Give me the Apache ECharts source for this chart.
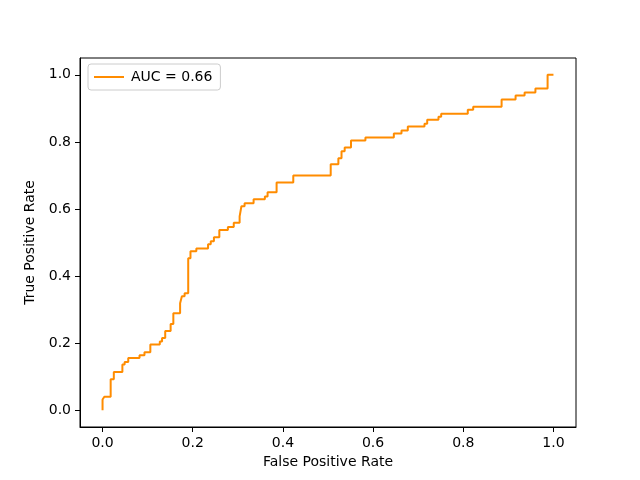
<!DOCTYPE html>
<html>
<head>
<meta charset="utf-8">
<script src="https://cdn.jsdelivr.net/npm/echarts@6/dist/echarts.min.js"></script>
<style>html,body{margin:0;padding:0;background:#fff}#c{width:640px;height:480px}</style>
</head>
<body>
<div id="c"></div>
<script>
// False positive rate at each vertical step of the ROC curve
var stepFpr = [0, 0.004, 0.018, 0.025, 0.044, 0.049, 0.057, 0.082, 0.093, 0.106,
  0.127, 0.132, 0.139, 0.151, 0.157, 0.172, 0.176, 0.182, 0.190, 0.195,
  0.208, 0.234, 0.240, 0.247, 0.259, 0.278, 0.291, 0.304, 0.308, 0.315,
  0.335, 0.360, 0.366, 0.386, 0.423, 0.506, 0.523, 0.530, 0.537, 0.551,
  0.583, 0.646, 0.663, 0.677, 0.714, 0.720, 0.745, 0.751, 0.810, 0.822,
  0.885, 0.916, 0.936, 0.960, 0.987];
// True positive rate reached after each step
var stepTpr = [0.032, 0.040, 0.092, 0.114, 0.136, 0.144, 0.156, 0.164, 0.173, 0.196,
  0.205, 0.215, 0.236, 0.257, 0.289, 0.319, 0.340, 0.349, 0.453, 0.474,
  0.482, 0.495, 0.504, 0.516, 0.537, 0.546, 0.559, 0.578, 0.608, 0.617,
  0.629, 0.637, 0.650, 0.679, 0.700, 0.733, 0.751, 0.772, 0.783, 0.804,
  0.813, 0.825, 0.834, 0.846, 0.854, 0.866, 0.875, 0.884, 0.896, 0.905,
  0.926, 0.938, 0.947, 0.959, 1.0];
var tickValues = [0, 0.2, 0.4, 0.6, 0.8, 1.0];
var seriesName = 'AUC = 0.66';
var xTitle = 'False Positive Rate';
var yTitle = 'True Positive Rate';

var roc = [[0, 0]];
var prev = 0;
for (var i = 0; i < stepFpr.length; i++) {
  roc.push([stepFpr[i], prev]);
  roc.push([stepFpr[i], stepTpr[i]]);
  prev = stepTpr[i];
}
roc.push([1.0, prev]);

var font = 'DejaVu Sans';
function axisCommon(name, isX) {
  return {
    type: 'value', min: -0.05, max: 1.05,
    name: name, nameLocation: 'middle',
    nameGap: isX ? 28 : 38,
    nameTextStyle: {fontFamily: font, fontSize: 14, color: '#000'},
    splitLine: {show: false},
    axisLine: {show: true, onZero: false, lineStyle: {color: '#000', width: 1}},
    axisTick: {show: true, inside: false, length: 5, customValues: tickValues, lineStyle: {color: '#000', width: 1}},
    axisLabel: {show: true, margin: 9, customValues: tickValues, fontFamily: font, fontSize: 14, color: '#000',
      formatter: function (v) { return v.toFixed(1); }}
  };
}
var chart = echarts.init(document.getElementById('c'), null, {renderer: 'canvas'});
chart.setOption({
  animation: false,
  backgroundColor: '#fff',
  grid: {left: 80, right: 64, top: 58, bottom: 53, show: true, borderColor: '#000', borderWidth: 1, backgroundColor: 'transparent'},
  xAxis: axisCommon(xTitle, true),
  yAxis: axisCommon(yTitle, false),
  legend: {
    left: 88, top: 64, orient: 'vertical',
    padding: [6, 8, 6, 6],
    itemWidth: 30, itemHeight: 2, itemGap: 4,
    borderColor: '#cccccc', borderWidth: 1, borderRadius: 3,
    backgroundColor: '#fff',
    textStyle: {fontFamily: font, fontSize: 14, color: '#000', padding: [0, 0, 0, 2]},
    data: [{name: seriesName, icon: 'rect'}]
  },
  series: [{
    name: seriesName, type: 'line', data: roc,
    showSymbol: false, symbol: 'none',
    lineStyle: {color: '#ff8c00', width: 2},
    itemStyle: {color: '#ff8c00'}
  }]
});
</script>
</body>
</html>
